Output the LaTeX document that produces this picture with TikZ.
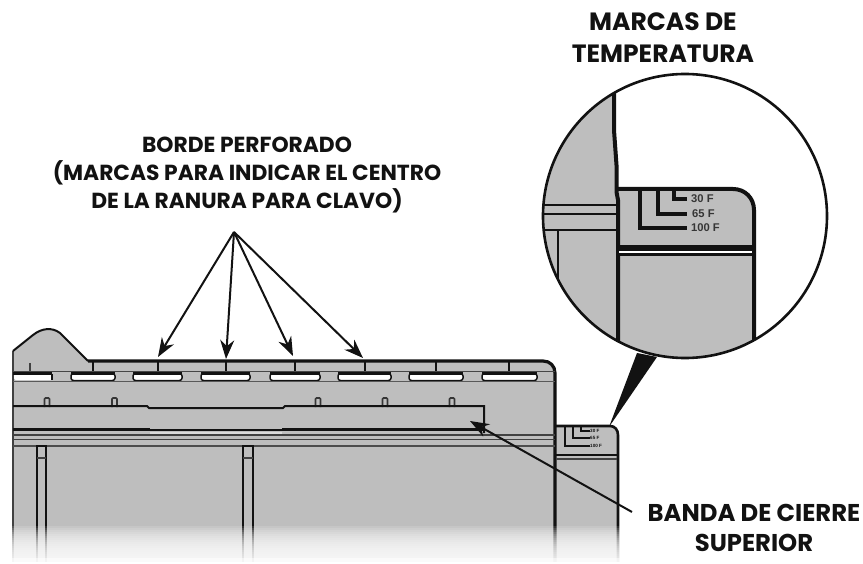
\documentclass[tikz,border=0pt]{standalone}
\usepackage{fontspec}
\setmainfont{Poppins}
\newfontfamily\markfont{Liberation Sans}
\usetikzlibrary{arrows.meta}
\definecolor{bodygray}{HTML}{BEBEBE}
\definecolor{ink}{HTML}{121212}
\tikzset{
  x=1pt,y=-1pt,
  outline/.style={draw=ink,line width=3.2pt,line join=round},
  thinline/.style={draw=ink!80,line width=1.3pt},
  midline/.style={draw=ink,line width=2pt},
  heavy/.style={draw=ink,line width=3.4pt},
  slotbox/.style={fill=white,draw=ink,line width=1.5pt,rounded corners=2.5pt},
  nib/.style={draw=ink!85,fill=bodygray,line width=1.6pt,rounded corners=1pt},
  callout/.style={draw=ink,line width=2pt,-{Stealth[length=19pt,width=14pt]}},
  label/.style={font=\bfseries\fontsize{21.8}{28}\selectfont,text=ink,align=center,inner sep=0pt},
  marktext/.style={font=\markfont\bfseries\fontsize{11.2}{12}\selectfont,text=ink!85,anchor=west,inner sep=0pt},
  tinytext/.style={font=\markfont\bfseries\fontsize{4.6}{5}\selectfont,text=ink,anchor=west,inner sep=0pt},
}
\begin{document}
\begin{tikzpicture}
\useasboundingbox (0,0) rectangle (863,564);
% main body
\fill[bodygray] (13,564) -- (13,351) -- (33,335) .. controls (42,328) and (52,327) .. (60,333) -- (88,361) -- (543,361) .. controls (550,361) and (555,366) .. (555,373) -- (555,564) -- cycle;
% small side section
\fill[bodygray] (555,426) -- (610,426) .. controls (615,426) and (618,430) .. (618,435) -- (618,564) -- (555,564) -- cycle;
% outlines
\draw[draw=ink!80,line width=2pt] (13,564) -- (13,351);
\draw[outline,line width=2pt] (13,351) -- (33,335) .. controls (42,328) and (52,327) .. (60,333) -- (88,361);
\draw[outline] (88,361) -- (543,361) .. controls (550,361) and (555,366) .. (555,373) -- (555,564);
\draw[outline,line width=2.6pt] (555,426) -- (610,426) .. controls (615,426) and (618,430) .. (618,435) -- (618,564);
% ticks above the slots
\foreach \tx in {93,158,226,295,365,436,509} \draw[midline] (\tx,361) -- (\tx,373);
\draw[thinline] (30,363) -- (30,373);
% perforated edge
\foreach \sa/\sb in {71/115,133/182,201/250,270/320,338/391,409/463,482/537}
  \draw[slotbox] (\sa,373.5) rectangle (\sb,380.5);
\fill[white,rounded corners=1.5pt] (14,374) rectangle (52,380);
\draw[ink,line width=1.5pt] (52,374) -- (52,380);
\foreach \sa/\sb in {13/52,71/115,133/182,201/250,270/320,338/391,409/463,482/537}
  \fill[ink] (\sa,372) rectangle (\sb,374.5);
\fill[ink!70!bodygray] (13,371) rectangle (555,372.5);
\draw[draw=ink!70,line width=1.6pt] (13,381.5) -- (555,381.5);
% closing band
\foreach \nx in {47,114.5,318,385,452}
  \draw[nib] (\nx-2.5,407) -- (\nx-2.5,398) -- (\nx+2.5,398) -- (\nx+2.5,407);
\draw[midline] (13,406) -- (147,406) -- (149,408) -- (283,408) -- (285,406) -- (484,406) -- (484,433);
\draw[heavy] (13,429.5) -- (150,429.5);
\draw[midline] (150,429.5) -- (282,429.5);
\draw[heavy] (282,429.5) -- (484,429.5);
\fill[bodygray!55!white] (150,431.5) rectangle (282,434);
\draw[thinline] (13,435) -- (555,435);
\draw[thinline] (13,439.5) -- (555,439.5);
\draw[draw=ink!75,line width=1.6pt] (13,446) -- (555,446);
% ribs
\foreach \rx/\ry in {37/46,243/253}{
  \draw[midline] (\rx,564) -- (\rx,446) -- (\ry,446) -- (\ry,564);
  \draw[thinline] (\rx,458) -- (\ry,458);
}
% side section marks
\draw[midline,line width=2.4pt] (555,455) -- (618,455);
\draw[thinline] (556,459) -- (617,459);
\draw[draw=ink,line width=1.2pt] (581,427) -- (581,431) -- (590,431);
\draw[draw=ink,line width=1.2pt] (573,427) -- (573,438) -- (590,438);
\draw[draw=ink,line width=1.2pt] (565,427) -- (565,446) -- (590,446);
\node[tinytext] (t30s) at (590,431) {30 F};
\node[tinytext] (t65s) at (590,438) {65 F};
\node[tinytext] (t100s) at (590,445.5) {100 F};
% fade at the bottom
\foreach \fy in {526,528,...,562}
  \fill[white,opacity=0.13] (5,\fy) rectangle (626,566);
\fill[white,opacity=0.5] (5,558) rectangle (626,566);
\fill[white] (5,562) rectangle (626,566);
% wedge to the magnified view
\fill[ink] (609,427) -- (637,353) -- (657,357) -- cycle;
% magnified view
\begin{scope}
\clip (685,216) circle (142);
\fill[white] (543,74) rectangle (827,358);
\fill[bodygray] (543,74) rectangle (615,358);
\fill[bodygray] (615,358) -- (615,189) -- (733,189) .. controls (745,189) and (754,198) .. (754,210) -- (754,358) -- cycle;
\draw[draw=ink,line width=2pt] (543,205) -- (616,205);
\draw[draw=ink,line width=1.8pt] (543,214) -- (616,214);
\draw[draw=ink,line width=2pt] (543,230) -- (616,230);
\draw[draw=ink,line width=2.4pt] (558,230) -- (558,358);
\draw[draw=ink,line width=4pt,line join=round] (614,74) -- (614,130) -- (616.5,165) -- (616.5,192) -- (618,200) -- (618,358);
\draw[draw=ink,line width=4pt] (616,189) -- (733,189) .. controls (745,189) and (754,198) .. (754,210) -- (754,358);
\fill[ink] (618,245) rectangle (754,251);
\fill[white] (619,251) rectangle (752,253.5);
\fill[ink] (619,253.5) rectangle (752,256);
\draw[draw=ink,line width=3.4pt] (674,189) -- (674,199) -- (687,199);
\draw[draw=ink,line width=3.4pt] (658,189) -- (658,214) -- (687,214);
\draw[draw=ink,line width=3.4pt] (640,189) -- (640,228) -- (687,228);
\end{scope}
\node[draw=ink,line width=2.6pt,circle,minimum size=284pt,inner sep=0pt] (lens) at (685,216) {};
\node[marktext] (t30) at (691,199) {30 F};
\node[marktext] (t65) at (692,214) {65 F};
\node[marktext] (t100) at (691,228) {100 F};
% labels
\node[label,font=\bfseries\fontsize{25}{32}\selectfont] (tempmarks) at (663,38) {MARCAS DE\\TEMPERATURA};
\node[label] (perfedge) at (247,175) {BORDE PERFORADO\\(MARCAS PARA INDICAR EL CENTRO\\DE LA RANURA PARA CLAVO)};
\node[label,font=\bfseries\fontsize{24.3}{30}\selectfont] (closing) at (754,528) {BANDA DE CIERRE\\SUPERIOR};
% arrows
\coordinate (fan) at (234,232);
\coordinate (p1) at (158,357);
\coordinate (p2) at (226,359);
\coordinate (p3) at (293,356);
\coordinate (p4) at (363,358);
\coordinate (bandfrom) at (632,512);
\coordinate (bandto) at (470,421);
\draw[callout] (fan) -- (p1);
\draw[callout] (fan) -- (p2);
\draw[callout] (fan) -- (p3);
\draw[callout] (fan) -- (p4);
\draw[callout] (bandfrom) -- (bandto);
\end{tikzpicture}
\end{document}
